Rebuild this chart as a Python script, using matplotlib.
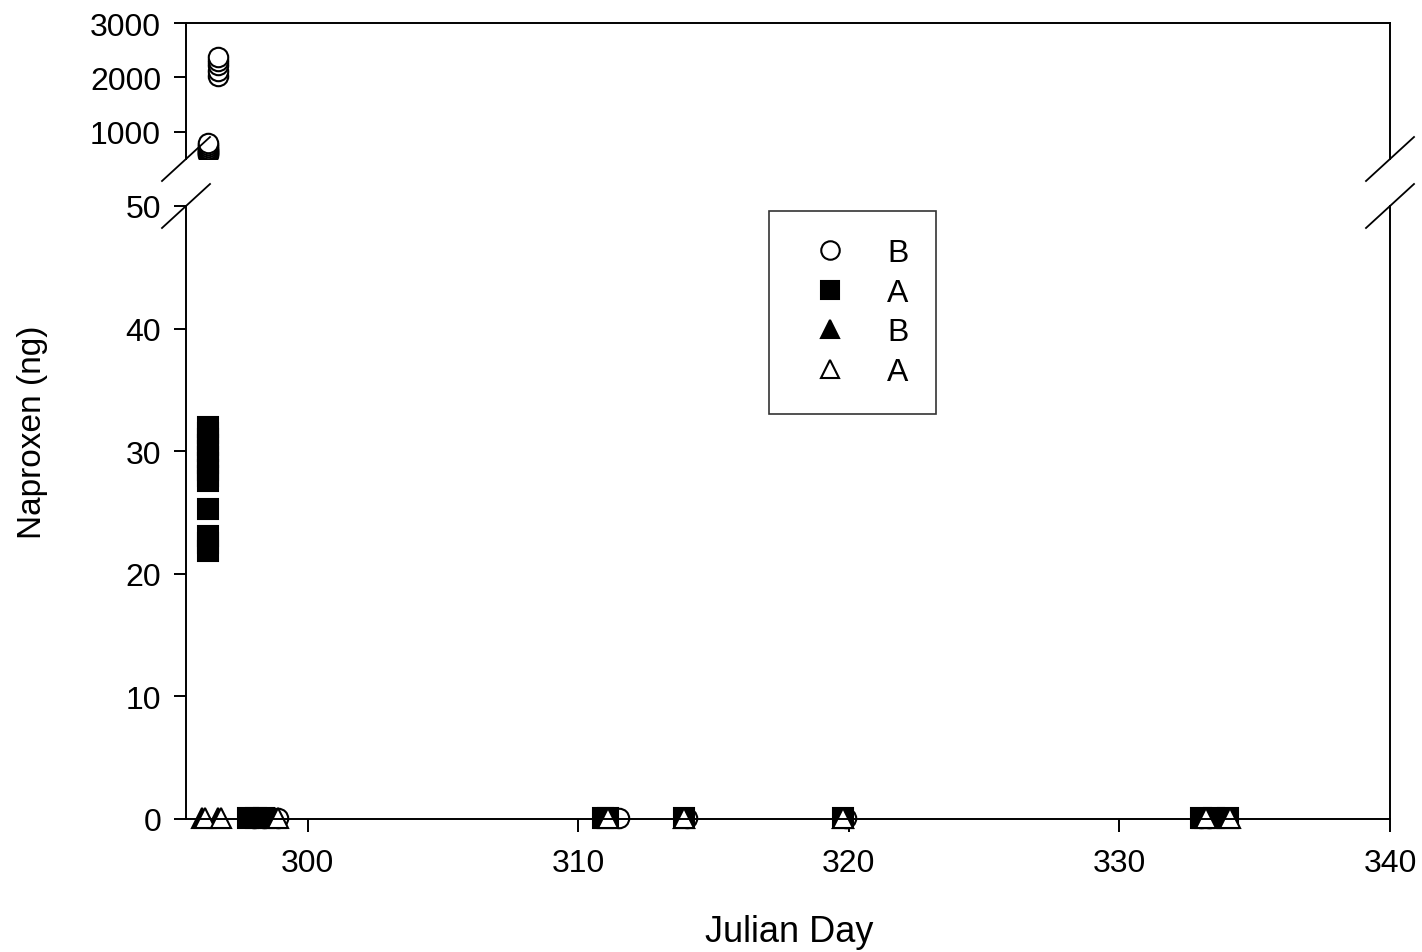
import numpy as np
import matplotlib
matplotlib.use("Agg")
import matplotlib.pyplot as plt

plt.rcParams['font.family'] = ['Liberation Sans', 'DejaVu Sans']

# open circles - B
circ_x = [296.7, 296.7, 296.7, 296.7, 296.7,
          296.3, 296.3, 296.3, 296.3, 296.3, 296.3, 296.3, 296.3, 296.3, 296.3,
          298.0, 298.4, 298.9, 311.5, 314.0, 319.9, 333.0, 333.3]
circ_y = [2030, 2120, 2220, 2310, 2380,
          570, 590, 610, 630, 650, 670, 690, 720, 750, 790,
          0.05, 0.05, 0.05, 0.1, 0.05, 0.05, 0.05, 0.05]

# filled squares - A
sq_x = [296.3, 296.3, 296.3, 296.3, 296.3, 296.3, 296.3, 296.3, 296.3, 296.3,
        296.3, 296.3, 296.3, 296.3,
        297.8, 298.1, 298.4, 310.9, 311.1, 313.9, 319.8, 333.0, 333.5, 334.0]
sq_y = [32.0, 31.5, 31.0, 30.5, 30.0, 29.5, 29.0, 28.5, 28.0, 27.6,
        25.3, 23.1, 22.5, 21.9,
        0.05, 0.05, 0.05, 0.05, 0.05, 0.05, 0.05, 0.05, 0.05, 0.05]

# filled triangles - B
tf_x = [296.1, 296.7, 298.8, 311.0, 313.9, 319.8, 333.1, 334.0]
tf_y = [0.05, 0.05, 0.05, 0.05, 0.05, 0.05, 0.05, 0.05]

# open triangles - A
to_x = [296.2, 296.8, 298.9, 311.1, 313.9, 319.8, 333.2, 334.1]
to_y = [0.05, 0.05, 0.05, 0.05, 0.05, 0.05, 0.05, 0.05]

series = [
    (circ_x, circ_y, 'o', 'white', 14, 'B'),
    (sq_x, sq_y, 's', 'black', 14, 'A'),
    (tf_x, tf_y, '^', 'black', 14, 'B'),
    (to_x, to_y, '^', 'white', 14, 'A'),
]

W, H = 1422, 953
fig = plt.figure(figsize=(W / 100, H / 100), dpi=100)
left, right = 186 / W, 1390 / W
ax_bot = fig.add_axes([left, 1 - 820 / H, right - left, (820 - 207) / H])
ax_top = fig.add_axes([left, 1 - 160 / H, right - left, (160 - 24) / H])

handles = []
for xs, ys, m, fc, ms, lab in series:
    xs = np.array(xs)
    ys = np.array(ys)
    lo = ys <= 50
    h, = ax_bot.plot(xs[lo], ys[lo], ls='none', marker=m, mfc=fc, mec='black',
                     ms=ms, mew=1.5, clip_on=False, label=lab)
    ax_top.plot(xs[~lo], ys[~lo], ls='none', marker=m, mfc=fc, mec='black',
                ms=ms, mew=1.5)
    handles.append(h)

for ax in (ax_bot, ax_top):
    ax.set_xlim(295.5, 340)
    for s in ax.spines.values():
        s.set_linewidth(1.4)
    ax.tick_params(direction='out', length=9, width=1.4, labelsize=23, pad=9,
                   top=False, right=False)
ax_bot.tick_params(axis='x', pad=12)

ax_bot.set_ylim(0, 50)
ax_bot.set_yticks([0, 10, 20, 30, 40, 50])
ax_bot.set_xticks([300, 310, 320, 330, 340])
ax_bot.spines['top'].set_visible(False)

ax_top.set_ylim(500, 3000)
ax_top.set_yticks([1000, 2000, 3000])
ax_top.set_xticks([])
ax_top.spines['bottom'].set_visible(False)
ax_top.patch.set_alpha(0)

# break marks
dx, dy = 24 / W, 22 / H
for xc in (left, right):
    for yc in (1 - 160 / H, 1 - 207 / H):
        fig.add_artist(plt.Line2D([xc - dx, xc + dx], [yc - dy, yc + dy],
                                  color='black', lw=1.3, transform=fig.transFigure))

fig.text(789 / W, 1 - 933 / H, 'Julian Day', fontsize=26, ha='center', va='center')
fig.text(33 / W, 1 - 432 / H, 'Naproxen (ng)', rotation=90, fontsize=24,
         ha='center', va='center')

leg = ax_bot.legend(handles=handles, loc='upper left',
                    bbox_to_anchor=(769 / W, 1 - 212 / H),
                    bbox_transform=fig.transFigure, fontsize=23,
                    frameon=True, fancybox=False, borderaxespad=0,
                    borderpad=0.85, handlelength=2.1, handletextpad=0.75,
                    labelspacing=0.3, markerscale=0.95)
leg.get_frame().set_edgecolor('black')
leg.get_frame().set_linewidth(1.2)

fig.savefig('out.png', dpi=100)
